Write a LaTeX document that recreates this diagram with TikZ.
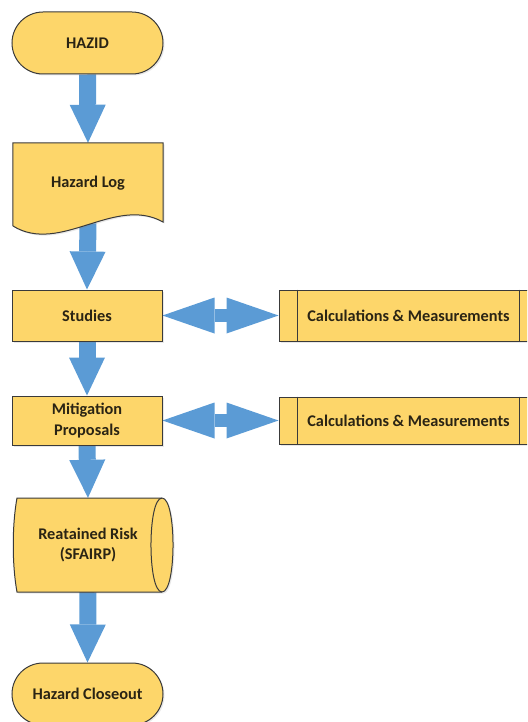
\documentclass[tikz,border=0pt]{standalone}
\usepackage{fontspec}
\setmainfont{Carlito}
\usetikzlibrary{arrows.meta,shadows}
\definecolor{boxfill}{HTML}{FDD66A}
\definecolor{boxline}{HTML}{3A3A3A}
\definecolor{arrowblue}{HTML}{5B9BD5}
\definecolor{txtcol}{HTML}{2A2414}
\pgfdeclarelayer{arrowlayer}
\pgfdeclarelayer{shapelayer}
\pgfsetlayers{arrowlayer,shapelayer,main}
\begin{document}
\begin{tikzpicture}[x=1pt,y=-1pt,
  txt/.style={font=\fontsize{16.3}{20.5}\selectfont\bfseries, text=txtcol, align=center},
  shp/.style={fill=boxfill, draw=boxline, line width=1pt},
  sh/.style={drop shadow={opacity=0.18,shadow xshift=1.5pt,shadow yshift=-1.5pt}},
  stadium/.style={shp, sh, txt, rectangle, rounded corners=31pt, minimum width=151pt, minimum height=62pt, inner sep=0pt},
  procbox/.style={shp, sh, txt, rectangle, minimum width=150pt, inner sep=0pt},
  ghost/.style={txt, rectangle, inner sep=0pt, draw=none},
  flow/.style={arrowblue, line width=17pt, -{Triangle[width=36pt,length=38pt,line width=0pt]}},
  link/.style={arrowblue, line width=13pt, {Triangle[width=36pt,length=52pt,line width=0pt]}-{Triangle[width=36pt,length=52pt,line width=0pt]}},
]
\useasboundingbox (0,0) rectangle (527,722);
\clip (0,0) rectangle (527,722);

% nodes
\node[stadium] (hazid) at (87.5,43) {HAZID};
\node[ghost, minimum width=150pt, minimum height=80pt] (log) at (88,183) {Hazard Log};
\node[procbox, minimum height=51pt] (studies) at (87,315.5) {Studies};
\node[procbox, minimum width=259pt, minimum height=51pt] (calc1) at (408.5,315.5) {Calculations \& Measurements};
\node[procbox, minimum height=49pt] (mitig) at (87,420.5) {Mitigation\\Proposals};
\node[procbox, minimum width=259pt, minimum height=47pt] (calc2) at (408.5,420.5) {Calculations \& Measurements};
\node[ghost, minimum width=150pt, minimum height=94pt] (risk) at (88,545) {Reatained Risk\\(SFAIRP)};
\node[stadium] (close) at (87.5,694) {Hazard Closeout};

% custom shapes
\begin{pgfonlayer}{shapelayer}
  \path[shp, sh] (log.north west) -- (log.north east) -- (163,222)
     .. controls (115,195) and (60,255) .. (13,226) -- cycle;
  \path[shp, sh] (17,498) -- (162,498) .. controls (176.7,498) and (176.7,592) .. (162,592)
     -- (17,592) .. controls (12,565) and (12,525) .. (17,498) -- cycle;
  \draw[boxline, line width=1pt] (162,498) .. controls (147.3,498) and (147.3,592) .. (162,592);
\end{pgfonlayer}

% inner bars of the subprocess boxes
\foreach \b in {calc1,calc2}{
  \draw[boxline, line width=1pt] ([xshift=19pt]\b.north west) -- ([xshift=19pt]\b.south west);
  \draw[boxline, line width=1pt] ([xshift=-19pt]\b.north east) -- ([xshift=-19pt]\b.south east);
}

% connectors
\begin{pgfonlayer}{arrowlayer}
  \draw[flow] (hazid.south) -- (log.north);
  \draw[flow] (log.south) -- (studies.north);
  \draw[flow] (studies.south) -- (mitig.north);
  \draw[flow] (mitig.south) -- (risk.north);
  \draw[flow] (risk.south) -- (close.north);
  \draw[link] (studies.east) -- (calc1.west);
  \draw[link] (mitig.east) -- (calc2.west);
\end{pgfonlayer}
\end{tikzpicture}
\end{document}
